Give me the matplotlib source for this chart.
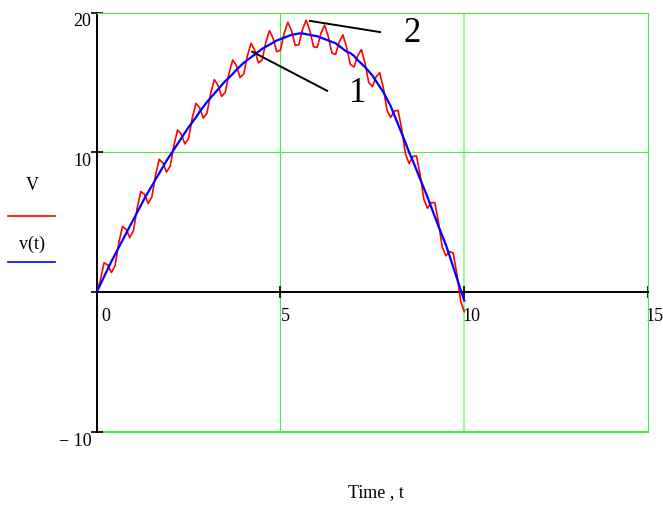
import matplotlib
matplotlib.use("Agg")
import matplotlib.pyplot as plt
from matplotlib.lines import Line2D
from matplotlib.transforms import ScaledTranslation

plt.rcParams['font.family'] = ['Liberation Serif', 'DejaVu Serif']

# time grid (step 0.1)
t = [round(0.1 * i, 1) for i in range(101)]

# smooth curve v(t)
v = [0.0, 0.55, 1.1, 1.65, 2.2, 2.7, 3.2, 3.7, 4.2, 4.7,
     5.2, 5.7, 6.2, 6.7, 7.15, 7.6, 8.05, 8.5, 8.95, 9.4,
     9.8, 10.2, 10.6, 11.0, 11.4, 11.8, 12.15, 12.5, 12.9, 13.25,
     13.6, 13.9, 14.2, 14.5, 14.8, 15.1, 15.35, 15.6, 15.9, 16.15,
     16.4, 16.6, 16.8, 17.0, 17.2, 17.4, 17.55, 17.7, 17.85, 18.0,
     18.1, 18.2, 18.3, 18.4, 18.45, 18.5, 18.5, 18.45, 18.4, 18.35,
     18.3, 18.2, 18.1, 18.0, 17.9, 17.8, 17.6, 17.4, 17.2, 17.1,
     16.9, 16.6, 16.35, 16.1, 15.8, 15.5, 15.1, 14.7, 14.3, 13.8,
     13.3, 12.65, 12.0, 11.35, 10.7, 10.0, 9.4, 8.75, 8.1, 7.45,
     6.8, 6.1, 5.4, 4.7, 4.05, 3.4, 2.6, 1.8, 1.0, 0.2,
     -0.6]

# oscillating series V
V = [0.0, 0.85, 2.1, 1.95, 1.4, 1.9, 3.5, 4.7, 4.5, 3.9,
     4.4, 6.0, 7.2, 7.0, 6.35, 6.8, 8.35, 9.5, 9.25, 8.6,
     9.0, 10.5, 11.6, 11.3, 10.6, 11.0, 12.45, 13.5, 13.2, 12.45,
     12.8, 14.2, 15.2, 14.8, 14.0, 14.3, 15.65, 16.6, 16.2, 15.35,
     15.6, 16.9, 17.8, 17.3, 16.4, 16.6, 17.85, 18.7, 18.15, 17.2,
     17.3, 18.5, 19.3, 18.7, 17.65, 17.7, 18.8, 19.45, 18.7, 17.55,
     17.5, 18.5, 19.1, 18.3, 17.1, 17.0, 17.9, 18.4, 17.5, 16.3,
     16.1, 16.9, 17.35, 16.4, 15.0, 14.7, 15.4, 15.7, 14.6, 13.0,
     12.5, 12.95, 13.0, 11.65, 9.9, 9.2, 9.7, 9.75, 8.4, 6.65,
     6.0, 6.4, 6.4, 5.0, 3.25, 2.6, 2.9, 2.8, 1.3, -0.6,
     -1.4]

x_ticks = [0, 5, 10, 15]
x_tick_labels = ["0", "5", "10", "15"]
y_ticks = [-10, 0, 10, 20]
y_tick_labels = ["\u2212 10", "", "10", "20"]

GREEN = "#44ee44"
LIGHT_GREEN = "#99ff99"

fig = plt.figure(figsize=(6.63, 5.06), dpi=100)
ax = fig.add_axes([96.7 / 663, 1 - 433 / 506, (648 - 96.7) / 663, (433 - 13.5) / 506])
ax.set_xlim(0, 15)
ax.set_ylim(-10, 20)

# grid lines
ax.axvline(5, color=GREEN, lw=0.8, zorder=0)
ax.axvline(10, color=LIGHT_GREEN, lw=1.6, zorder=0)
ax.axhline(10, color=GREEN, lw=0.8, zorder=0)
ax.axhline(-10, color=GREEN, lw=1.5, zorder=0, clip_on=False)

ax.spines['top'].set_color(GREEN)
ax.spines['right'].set_color(GREEN)
ax.spines['top'].set_linewidth(0.8)
ax.spines['right'].set_linewidth(0.8)
ax.spines['left'].set_color('black')
ax.spines['left'].set_linewidth(1.4)
ax.spines['bottom'].set_position(('data', 0))
ax.spines['bottom'].set_color('black')
ax.spines['bottom'].set_linewidth(1.4)

ax.plot(t, V, color='#ff0000', lw=1.2, zorder=3)
ax.plot(t, v, color='#0000ff', lw=1.6, zorder=4)

ax.set_xticks(x_ticks)
ax.set_xticklabels(x_tick_labels, fontsize=13, ha='left')
ax.set_yticks(y_ticks)
ax.set_yticklabels(y_tick_labels, fontsize=13, va='top')
ax.tick_params(axis='x', direction='inout', length=8, width=1.2, pad=7)
ax.tick_params(axis='y', direction='inout', length=8, width=1.2, pad=0)

x_offsets_px = [5, 0, -2, -3]
for lbl, dx in zip(ax.get_xticklabels(), x_offsets_px):
    lbl.set_transform(lbl.get_transform() + ScaledTranslation(dx / 100, 0, fig.dpi_scale_trans))

# annotations
ax.plot([5.80, 7.71], [19.4, 18.6], color='black', lw=1.4, zorder=5)
ax.text(8.58, 18.6, "2", fontsize=25, ha='center', va='center')
ax.plot([4.23, 6.27], [17.2, 14.4], color='black', lw=1.4, zorder=5)
ax.text(7.11, 14.3, "1", fontsize=25, ha='center', va='center')

# legend (left side)
fig.text(32 / 663, 1 - 186 / 506, "V", fontsize=13, ha='center', va='center')
fig.add_artist(Line2D([8 / 663, 55 / 663], [1 - 217 / 506, 1 - 217 / 506], color='#ff0000', lw=1.2))
fig.text(32 / 663, 1 - 244 / 506, "v(t)", fontsize=13, ha='center', va='center')
fig.add_artist(Line2D([8 / 663, 55 / 663], [1 - 263 / 506, 1 - 263 / 506], color='#0000ff', lw=1.2))

fig.text(376 / 663, 1 - 493 / 506, "Time , t", fontsize=13, ha='center', va='center')

fig.savefig("out.png", dpi=100)
